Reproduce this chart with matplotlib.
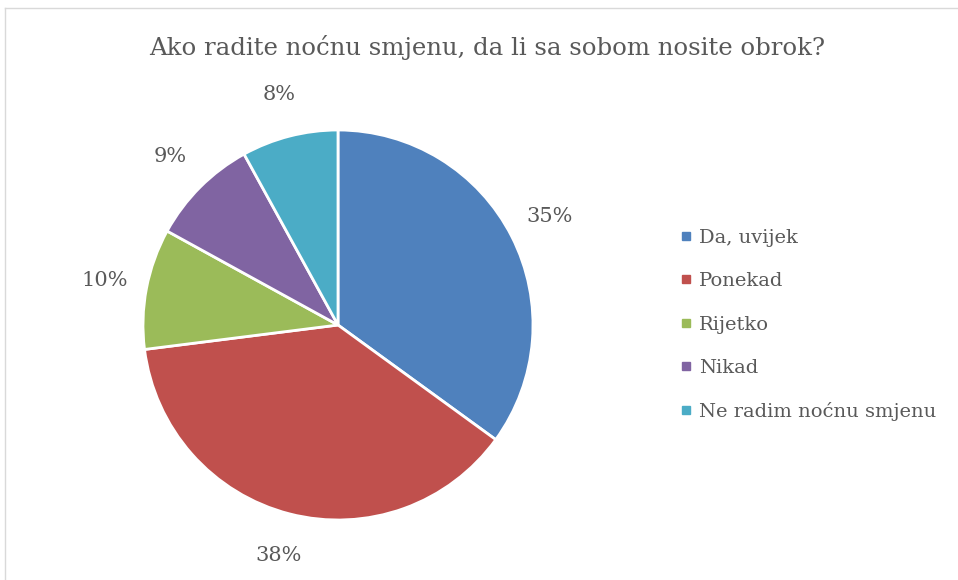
import matplotlib.pyplot as plt
from matplotlib.lines import Line2D

W, H = 958, 580

title = 'Ako radite noćnu smjenu, da li sa sobom nosite obrok?'
labels = ['Da, uvijek', 'Ponekad', 'Rijetko', 'Nikad', 'Ne radim noćnu smjenu']
values = [35, 38, 10, 9, 8]
colors = ['#4f81bd', '#c0504d', '#9bbb59', '#8064a2', '#4bacc6']
text_color = '#595959'

plt.rcParams['font.family'] = ['DejaVu Serif']

fig = plt.figure(figsize=(W / 100, H / 100), dpi=100)

# pie box in pixels: centre (338, 325), radius 195
cx, cy, r = 338, 325, 195
ax = fig.add_axes([(cx - r) / W, (H - cy - r) / H, 2 * r / W, 2 * r / H])

wedges, texts, autotexts = ax.pie(
    values, colors=colors, startangle=90, counterclock=False,
    autopct='%d%%', pctdistance=1.22, radius=1,
    wedgeprops=dict(edgecolor='white', linewidth=2),
    textprops=dict(color=text_color, fontsize=15))
ax.set_xlim(-1, 1)
ax.set_ylim(-1, 1)
ax.axis('off')

fig.text(487 / W, 1 - 48 / H, title, ha='center', va='center',
         fontsize=17.6, color=text_color)

handles = [Line2D([], [], marker='s', linestyle='none', markersize=6,
                  markerfacecolor=c, markeredgecolor=c) for c in colors]
leg = fig.legend(handles, labels, loc='center left',
                 bbox_to_anchor=(672 / W, 1 - 325 / H), frameon=False,
                 fontsize=14, labelspacing=1.3, handlelength=0.6,
                 handletextpad=0.4, borderaxespad=0)
for t in leg.get_texts():
    t.set_color(text_color)

# light chart border (left and top edges visible)
fig.add_artist(Line2D([5 / W, 5 / W], [0, 1 - 8 / H], color='#d9d9d9', lw=1))
fig.add_artist(Line2D([5 / W, 1], [1 - 8 / H, 1 - 8 / H], color='#d9d9d9', lw=1))

fig.savefig('out.png', dpi=100)
